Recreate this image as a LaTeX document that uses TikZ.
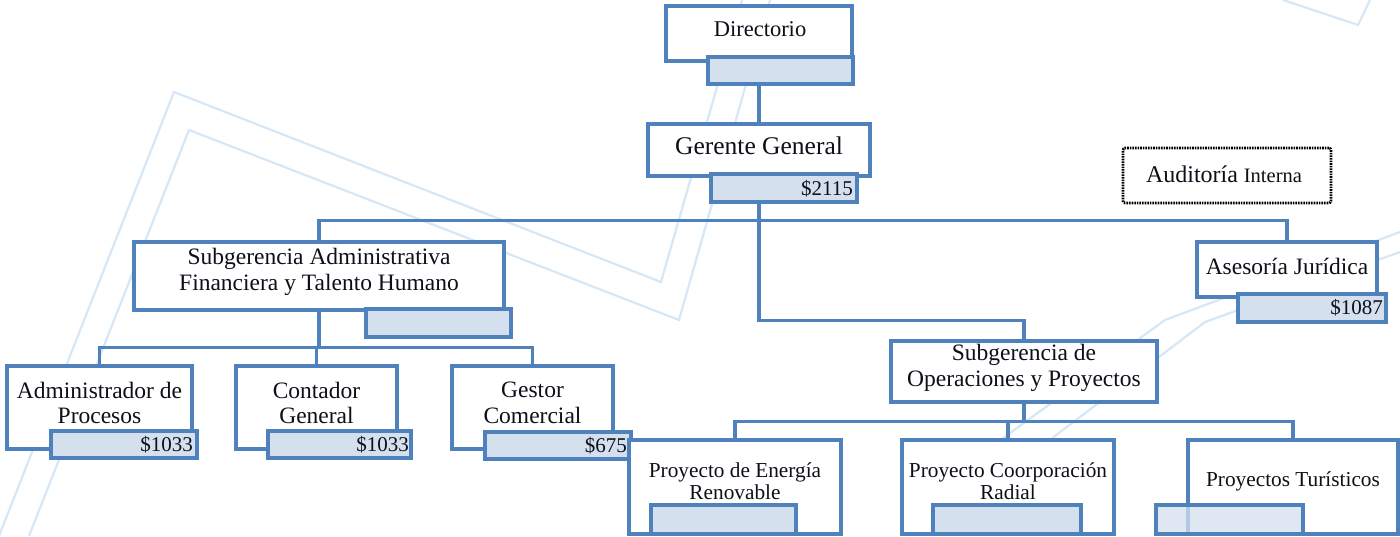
\documentclass[tikz,border=0pt]{standalone}
\usepackage{fontspec}
\setmainfont{Liberation Serif}
\usetikzlibrary{backgrounds}
\definecolor{boxblue}{RGB}{79,129,189}
\definecolor{subfill}{RGB}{213,224,239}
\definecolor{wm}{RGB}{214,232,247}
\definecolor{txt}{RGB}{15,15,25}
\tikzset{
  mainbox/.style={draw=boxblue,line width=3.1pt,fill=white,inner sep=0pt,rectangle},
  subbox/.style={draw=boxblue,line width=3.1pt,fill=subfill,inner sep=0pt,rectangle},
  dashbox/.style={draw=black,line width=2.6pt,dash pattern=on 1.6pt off 1pt,fill=white,inner sep=0pt,rectangle,rounded corners=2pt},
  conn/.style={draw=boxblue,line width=3.1pt},
  wmline/.style={draw=wm,line width=2.2pt},
  lbl/.style={text=txt,inner sep=0pt,align=center,font=\fontsize{23.5}{25.5}\selectfont},
  smalllbl/.style={text=txt,inner sep=0pt,align=center,font=\fontsize{21.3}{22.5}\selectfont},
  amt/.style={text=txt,inner sep=0pt,anchor=east,font=\fontsize{21}{24}\selectfont}
}
\begin{document}
\begin{tikzpicture}[x=1pt,y=-1pt]
\useasboundingbox (0,0) rectangle (1400,536);
\begin{scope}[on background layer]
\fill[white] (0,0) rectangle (1400,536);
\draw[wmline] (-1,536) -- (174,92) -- (661,282) -- (742,0);
\draw[wmline] (29,536) -- (189,130) -- (679,320) -- (770,0);
\draw[wmline] (980,455) -- (1165,320) -- (1400,232);
\draw[wmline] (1030,455) -- (1205,322) -- (1400,252);
\draw[wmline] (1283,0) -- (1358,25) -- (1370,0);
\end{scope}

% boxes
\node[mainbox,minimum width=186pt,minimum height=55pt] (dir) at (759,33.5) {};
\node[subbox,minimum width=145pt,minimum height=27pt] (dirsub) at (780.5,70.5) {};
\node[mainbox,minimum width=222pt,minimum height=52pt] (ger) at (759,150) {};
\node[subbox,minimum width=146pt,minimum height=28pt] (gersub) at (784,188) {};
\node[dashbox,minimum width=208pt,minimum height=55pt] (aud) at (1227,175.5) {};
\node[mainbox,minimum width=180pt,minimum height=55pt] (ases) at (1287,269.5) {};
\node[subbox,minimum width=148pt,minimum height=28pt] (asessub) at (1312,308) {};
\node[mainbox,minimum width=370pt,minimum height=68pt] (subadm) at (319,276) {};
\node[subbox,minimum width=145pt,minimum height=28pt] (subadmsub) at (438.5,323) {};
\node[mainbox,minimum width=185pt,minimum height=83pt] (adm) at (99.5,407.5) {};
\node[subbox,minimum width=146pt,minimum height=27pt] (admsub) at (124,444.5) {};
\node[mainbox,minimum width=161pt,minimum height=83pt] (con) at (316.5,407.5) {};
\node[subbox,minimum width=143pt,minimum height=27pt] (consub) at (339.5,444.5) {};
\node[mainbox,minimum width=161pt,minimum height=83pt] (ges) at (532.5,407.5) {};
\node[subbox,minimum width=146pt,minimum height=27pt] (gessub) at (558,445.5) {};
\node[mainbox,minimum width=266pt,minimum height=61pt] (ops) at (1024,371.5) {};
\node[mainbox,minimum width=212pt,minimum height=94pt] (ene) at (735,487) {};
\node[subbox,minimum width=145pt,minimum height=29pt] (enesub) at (723.5,519.5) {};
\node[mainbox,minimum width=212pt,minimum height=94pt] (coo) at (1008,487) {};
\node[subbox,minimum width=148pt,minimum height=29pt] (coosub) at (1007,519.5) {};
\node[mainbox,minimum width=210pt,minimum height=94pt] (tur) at (1293,487) {};
\node[subbox,fill opacity=0.75,minimum width=147pt,minimum height=29pt] (tursub) at (1229.5,519.5) {};

% connectors (behind boxes)
\coordinate (sa) at ([yshift=-36pt]subadm.south);
\coordinate (so) at ([yshift=-18pt]ops.south);
\begin{scope}[on background layer]
\draw[conn] (ger.north |- dirsub.south) -- (ger.north);
\draw[conn] (ger.north |- gersub.south) |- ([yshift=19pt]ops.north) -- (ops.north);
\draw[conn] (subadm.north) -- ([yshift=20pt]subadm.north) -| (ases.north);
\draw[conn] (subadm.south) -- (sa);
\draw[conn] (adm.north) |- (sa) -| (ges.north);
\draw[conn] (con.north) -- (con.north |- sa);
\draw[conn] (ops.south) -- (so);
\draw[conn] (ene.north) |- (so) -| (tur.north);
\draw[conn] (coo.north) -- (coo.north |- so);
\end{scope}

% labels
\node[lbl,font=\fontsize{22.5}{26}\selectfont] (tdir) at (760,29) {Directorio};
\node[lbl,font=\fontsize{25.5}{30}\selectfont] (tger) at (759,146) {Gerente General};
\node[amt] (tgersub) at (853,189) {\$2115};
\node[lbl] (taud) at (1224,174) {{\fontsize{24}{26}\selectfont Auditoría} {\fontsize{20.5}{24}\selectfont Interna}};
\node[lbl] (tases) at (1287,266) {Asesoría Jurídica};
\node[amt] (tasessub) at (1383,308) {\$1087};
\node[lbl] (tsubadm) at (319,272) {Subgerencia Administrativa\\Financiera y Talento Humano};
\node[lbl] (tadm) at (99.5,403) {Administrador de\\Procesos};
\node[amt] (tadmsub) at (193,445) {\$1033};
\node[lbl] (tcon) at (316.5,403) {Contador\\General};
\node[amt] (tconsub) at (409,445) {\$1033};
\node[lbl] (tges) at (532.5,403) {Gestor\\Comercial};
\node[amt] (tgessub) at (627,446) {\$675};
\node[lbl] (tops) at (1024,368) {Subgerencia de\\Operaciones y Proyectos};
\node[smalllbl] (tene) at (735,481) {Proyecto de Energía\\Renovable};
\node[smalllbl] (tcoo) at (1008,481) {Proyecto Coorporación\\Radial};
\node[smalllbl] (ttur) at (1293,481) {Proyectos Turísticos};
\end{tikzpicture}
\end{document}
